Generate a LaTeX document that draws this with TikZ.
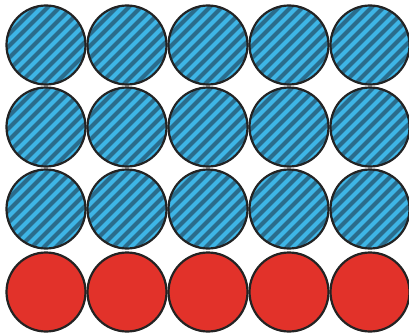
\documentclass[tikz,border=0pt]{standalone}
\usetikzlibrary{positioning}
\definecolor{ballblue}{RGB}{62,181,230}
\definecolor{stripeblue}{RGB}{42,108,140}
\definecolor{ballred}{RGB}{226,50,42}
\definecolor{rim}{RGB}{35,35,35}

\tikzset{
  ball/.style={circle, draw=rim, line width=2.2pt, minimum size=79pt, inner sep=0pt},
  stripedball/.style={ball, fill=ballblue, path picture={
      \foreach \k in {-8,...,8}
        \draw[stripeblue, line width=4.2pt]
          ([xshift=\k*12pt-50pt, yshift=-50pt]path picture bounding box.center) -- ++(100pt,100pt);}},
  redball/.style={ball, fill=ballred}
}

\begin{document}
\begin{tikzpicture}
  \useasboundingbox (0,0) rectangle (409pt,333pt);
  % three rows of striped balls
  \foreach \r in {0,1,2}
    \foreach \c in {0,...,4}
      \node[stripedball] (s-\r-\c) at (46pt+\c*81pt, 288pt-\r*82pt) {};
  % bottom row of red balls
  \foreach \c in {0,...,4}
    \node[redball] (r-\c) at (46pt+\c*81pt, 41pt) {};
\end{tikzpicture}
\end{document}
